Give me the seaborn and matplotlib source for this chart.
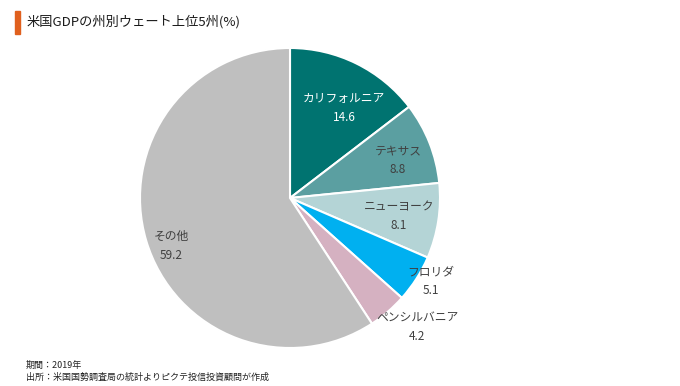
import matplotlib
matplotlib.use("Agg")
import matplotlib.pyplot as plt
import matplotlib.patches as mpatches
import numpy as np
import seaborn as sns

# data
states = ["カリフォルニア", "テキサス", "ニューヨーク", "フロリダ", "ペンシルバニア", "その他"]
weights = [14.6, 8.8, 8.1, 5.1, 4.2, 59.2]
colors = ["#007370", "#5b9fa1", "#b4d4d6", "#00b0f0", "#d5b1c1", "#bfbfbf"]
label_colors = ["white", "#404040", "#404040", "#404040", "#404040", "#404040"]
# label placement: radius and small angle shift from wedge middle
label_dist = [0.70, 0.763, 0.737, 1.09, 1.207, 0.855]
label_shift = [-4.7, -2.2, -0.6, 2.1, 3.9, 5.4]

sns.set_theme(style="white")
plt.rcParams["font.family"] = ["Noto Sans CJK JP", "DejaVu Sans"]

fig = plt.figure(figsize=(6.8, 3.86), dpi=100)
ax = fig.add_axes([140 / 680, 38 / 386, 300 / 680, 300 / 386])

wedges, _ = ax.pie(
    weights,
    colors=sns.color_palette(colors),
    startangle=90,
    counterclock=False,
    wedgeprops={"edgecolor": "white", "linewidth": 1.5},
)
ax.set_xlim(-1, 1)
ax.set_ylim(-1, 1)
ax.set_aspect("equal")

for w, name, val, c, d, s in zip(wedges, states, weights, label_colors, label_dist, label_shift):
    ang = np.deg2rad((w.theta1 + w.theta2) / 2 + s)
    ax.text(d * np.cos(ang), d * np.sin(ang), f"{name}\n{val}",
            ha="center", va="center", fontsize=8.5, color=c, linespacing=1.55)

# title with orange marker
fig.patches.append(mpatches.Rectangle((15 / 680, 352 / 386), 5 / 680, 23 / 386,
                                      transform=fig.transFigure, color="#e0601e"))
fig.text(27 / 680, 364 / 386, "米国GDPの州別ウェート上位5州(%)", fontsize=9.5,
         va="center", ha="left", color="#1a1a1a")

fig.text(26 / 680, 21 / 386, "期間：2019年", fontsize=6.5, va="center", color="#222222")
fig.text(26 / 680, 9 / 386, "出所：米国国勢調査局の統計よりピクテ投信投資顧問が作成",
         fontsize=6.5, va="center", color="#222222")

fig.savefig("out.png", dpi=100)
